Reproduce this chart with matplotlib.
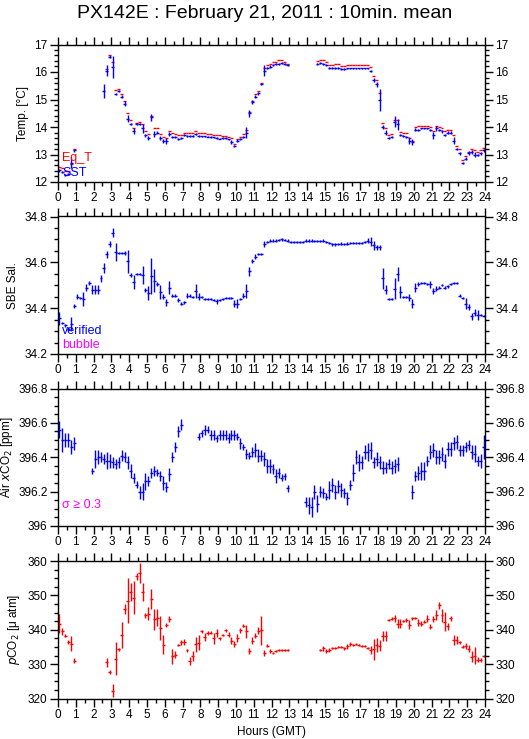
import numpy as np
import matplotlib
matplotlib.use("Agg")
import matplotlib.pyplot as plt
from matplotlib.ticker import MultipleLocator, FormatStrFormatter

plt.rcParams['font.family'] = ['Liberation Sans', 'DejaVu Sans']
nan = np.nan

title = "PX142E : February 21, 2011 : 10min. mean"
hours = (np.arange(144) + 0.5) / 6.0
half = 1.0 / 12.0

# ---- Panel 1: temperatures ----
sst = [12.42, 12.35, 12.25, 12.3, 12.7, 13.15,
       nan, nan, nan, nan, nan, nan, nan, nan, nan,
       15.3, 16.05, 16.55, 16.2, 15.2, 15.3, 15.1, 14.85, 14.3,
       14.1, 13.85, 14.1, 14.1, 13.95, 13.7,
       13.6, 14.35, 13.75, 13.8, 13.6, 13.5,
       13.5, 13.75, 13.65, 13.65, 13.55, 13.6,
       13.7, 13.68, 13.68, 13.68, 13.75, 13.68,
       13.66, 13.66, 13.65, 13.64, 13.62, 13.6,
       13.58, 13.6, 13.6, 13.55, 13.45, 13.3,
       13.5, 13.55, 13.65, 13.8, 14.5, 14.9,
       15.1, 15.22, 15.55, 16.05, 16.15, 16.2,
       16.25, 16.28, 16.3, 16.32, 16.28, 16.25,
       nan, nan, nan, nan, nan, nan, nan, nan, nan,
       16.3, 16.32, 16.3, 16.25, 16.15, 16.15,
       16.15, 16.15, 16.12, 16.12, 16.13, 16.13,
       16.13, 16.13, 16.13, 16.13, 16.13, 16.13,
       16.05, 15.7, 15.55, 15.0, 14.0, 13.8,
       13.6, 13.65, 14.2, 14.1, 13.7, 13.68,
       13.65, 13.5, 13.45, 13.9, 13.9, 13.95,
       13.95, 13.95, 13.9, 13.7, 13.95, 13.88,
       13.85, 13.72, 13.8, 13.8, 13.5, 13.2,
       13.05, 12.7, 12.85, 13.05, 13.1, 13.0,
       12.98, 13.05, 13.15]
sst_err = [0.04, 0.04, 0.04, 0.04, 0.2, 0.05,
           0, 0, 0, 0, 0, 0, 0, 0, 0,
           0.25, 0.2, 0.05, 0.4, 0.05, 0.04, 0.05, 0.08, 0.12,
           0.04, 0.1, 0.04, 0.04, 0.15, 0.05,
           0.06, 0.12, 0.1, 0.06, 0.08, 0.08,
           0.1, 0.08, 0.04, 0.04, 0.04, 0.04,
           0.03, 0.03, 0.03, 0.03, 0.05, 0.03,
           0.03, 0.03, 0.03, 0.03, 0.03, 0.03,
           0.03, 0.03, 0.03, 0.03, 0.06, 0.04,
           0.06, 0.04, 0.04, 0.2, 0.12, 0.08,
           0.05, 0.04, 0.04, 0.2, 0.04, 0.04,
           0.03, 0.03, 0.03, 0.03, 0.03, 0.03,
           0, 0, 0, 0, 0, 0, 0, 0, 0,
           0.03, 0.03, 0.03, 0.03, 0.03, 0.03,
           0.03, 0.03, 0.03, 0.03, 0.03, 0.03,
           0.03, 0.03, 0.03, 0.03, 0.03, 0.03,
           0.04, 0.08, 0.08, 0.4, 0.08, 0.08,
           0.04, 0.04, 0.2, 0.2, 0.04, 0.04,
           0.04, 0.12, 0.1, 0.05, 0.04, 0.03,
           0.03, 0.03, 0.03, 0.12, 0.08, 0.03,
           0.05, 0.04, 0.04, 0.04, 0.12, 0.05,
           0.05, 0.04, 0.06, 0.08, 0.08, 0.08,
           0.05, 0.05, 0.05]
eq_t = [12.55, 12.5, 12.4, 12.4, 12.65, 13.2,
        nan, nan, nan, nan, nan, nan, nan, nan, nan,
        nan, 16.1, 16.6, 16.35, 15.35, 15.4, 15.2, 14.95, 14.5,
        14.25, 13.95, 14.15, 14.2, 14.1, 13.85,
        13.75, 14.4, 13.95, 13.95, 13.75, 13.62,
        13.6, 13.85, 13.8, 13.75, 13.7, 13.7,
        13.8, 13.8, 13.8, 13.78, 13.85, 13.8,
        13.78, 13.78, 13.76, 13.75, 13.72, 13.7,
        13.7, 13.68, 13.66, 13.65, 13.6, 13.4,
        13.55, 13.65, 13.75, 13.9, 14.55, 14.95,
        15.2, 15.3, 15.6, 16.15, 16.25, 16.3,
        16.35, 16.38, 16.42, 16.42, 16.35, 16.3,
        nan, nan, nan, nan, nan, nan, nan, nan, nan,
        16.4, 16.42, 16.42, 16.35, 16.25, 16.25,
        16.28, 16.28, 16.22, 16.22, 16.25, 16.25,
        16.25, 16.25, 16.25, 16.25, 16.25, 16.25,
        16.18, 15.85, 15.7, 15.25, 14.15, 13.95,
        13.7, 13.75, 14.25, 14.25, 13.82, 13.8,
        13.78, 13.6, 13.5, 14.0, 14.02, 14.05,
        14.05, 14.05, 14.0, 13.85, 14.05, 14.0,
        13.95, 13.85, 13.9, 13.9, 13.7, 13.3,
        13.2, 12.8, 12.95, 13.1, 13.2, 13.15,
        13.1, 13.15, 13.22]

# ---- Panel 2: salinity ----
sal = [34.355, 34.335, 34.325, 34.31, 34.33, 34.41,
       34.45, 34.445, 34.44, 34.49, 34.51, 34.48,
       34.48, 34.48, 34.53, 34.575, 34.635, 34.68,
       34.73, 34.645, 34.64, 34.64, 34.64, 34.605,
       34.545, 34.515, 34.55, 34.55, 34.545, 34.48,
       34.465, 34.54, 34.52, 34.505, 34.47, 34.45,
       34.425, 34.49, 34.455, 34.455, 34.435, 34.42,
       34.425, 34.455, 34.455, 34.45, 34.475, 34.45,
       34.45, 34.44, 34.44, 34.44, 34.435, 34.43,
       34.435, 34.44, 34.445, 34.445, 34.445, 34.42,
       34.42, 34.44, 34.455, 34.475, 34.56, 34.605,
       34.625, 34.635, 34.635, 34.68, 34.69, 34.695,
       34.695, 34.695, 34.698, 34.7, 34.698, 34.695,
       34.69, 34.688, 34.688, 34.688, 34.69, 34.695,
       34.695, 34.695, 34.693, 34.693, 34.693, 34.695,
       34.69, 34.685, 34.678, 34.678, 34.68, 34.682,
       34.68, 34.682, 34.685, 34.685, 34.683, 34.683,
       34.685, 34.69, 34.695, 34.69, 34.675, 34.665,
       34.665, 34.53, 34.48, 34.44, 34.44, 34.485,
       34.55, 34.47, 34.45, 34.45, 34.445, 34.42,
       34.49, 34.505, 34.51, 34.51, 34.505, 34.505,
       34.475, 34.485, 34.49, 34.5, 34.49, 34.495,
       34.505, 34.51, 34.51, 34.455, 34.445, 34.42,
       34.405, 34.365, 34.38, 34.37, 34.37, 34.365]
sal_err = [0.03, 0.005, 0.005, 0.01, 0.03, 0.01,
           0.01, 0.005, 0.03, 0.015, 0.01, 0.02,
           0.02, 0.02, 0.015, 0.02, 0.015, 0.015,
           0.02, 0.04, 0.005, 0.005, 0.01, 0.05,
           0.01, 0.03, 0.005, 0.005, 0.04, 0.01,
           0.03, 0.08, 0.05, 0.01, 0.03, 0.01,
           0.015, 0.03, 0.005, 0.005, 0.01, 0.005,
           0.005, 0.01, 0.005, 0.005, 0.03, 0.015,
           0.005, 0.005, 0.005, 0.005, 0.005, 0.01,
           0.005, 0.005, 0.005, 0.005, 0.005, 0.015,
           0.02, 0.005, 0.01, 0.03, 0.02, 0.01,
           0.01, 0.005, 0.005, 0.015, 0.005, 0.005,
           0.005, 0.005, 0.005, 0.005, 0.005, 0.005,
           0.005, 0.005, 0.005, 0.005, 0.005, 0.005,
           0.005, 0.005, 0.005, 0.005, 0.005, 0.005,
           0.005, 0.005, 0.005, 0.005, 0.005, 0.005,
           0.005, 0.005, 0.005, 0.005, 0.005, 0.005,
           0.005, 0.005, 0.01, 0.02, 0.02, 0.01,
           0.01, 0.045, 0.02, 0.005, 0.005, 0.045,
           0.03, 0.025, 0.005, 0.005, 0.015, 0.02,
           0.02, 0.01, 0.005, 0.005, 0.005, 0.015,
           0.015, 0.01, 0.005, 0.005, 0.005, 0.005,
           0.005, 0.005, 0.005, 0.005, 0.005, 0.025,
           0.015, 0.015, 0.015, 0.02, 0.005, 0.005]

# ---- Panel 3: air xCO2 ----
xco2 = [396.56, 396.5, 396.5, 396.5, 396.46, 396.48,
        nan, nan, nan, nan, nan, 396.32,
        396.39, 396.4, 396.4, 396.39, 396.38, 396.38,
        396.37, 396.36, 396.37, 396.41, 396.4, 396.37,
        396.32, 396.28, 396.24, 396.195, 396.2, 396.26,
        396.26, 396.31, 396.32, 396.31, 396.29, 396.25,
        396.225, 396.3, 396.4, 396.46, 396.55, 396.59,
        nan, nan, nan, nan, nan, 396.52,
        396.54, 396.56, 396.56, 396.53, 396.53, 396.51,
        396.53, 396.53, 396.53, 396.51, 396.53, 396.53,
        396.52, 396.48, 396.46, 396.42, 396.41, 396.43,
        396.44, 396.41, 396.41, 396.39, 396.35, 396.35,
        396.33, 396.29, 396.31, 396.28, 396.29, 396.22,
        nan, nan, nan, nan, nan, 396.14,
        396.12, 396.11, 396.2, 396.13, 396.2, 396.19,
        396.17, 396.21, 396.24, 396.2, 396.23, 396.21,
        396.19, 396.16, 396.24, 396.31, 396.4, 396.37,
        396.37, 396.43, 396.43, 396.44, 396.37, 396.39,
        396.37, 396.34, 396.34, 396.36, 396.34, 396.35,
        396.36, nan, nan, nan, nan, 396.2,
        396.29, 396.31, 396.32, 396.32, 396.38, 396.43,
        396.44, 396.4, 396.4, 396.42, 396.38, 396.45,
        396.45, 396.48, 396.49, 396.44, 396.44, 396.46,
        396.47, 396.43, 396.42, 396.38, 396.38, 396.46]
xco2_err = [0.05, 0.07, 0.04, 0.04, 0.04, 0.04,
            0, 0, 0, 0, 0, 0.02,
            0.05, 0.04, 0.03, 0.03, 0.05, 0.04,
            0.03, 0.03, 0.03, 0.03, 0.03, 0.04,
            0.04, 0.03, 0.02, 0.04, 0.05, 0.05,
            0.03, 0.03, 0.03, 0.02, 0.03, 0.04,
            0.03, 0.04, 0.03, 0.03, 0.03, 0.03,
            0, 0, 0, 0, 0, 0.02,
            0.02, 0.03, 0.02, 0.03, 0.03, 0.02,
            0.03, 0.03, 0.03, 0.03, 0.03, 0.03,
            0.02, 0.03, 0.02, 0.03, 0.02, 0.03,
            0.04, 0.04, 0.03, 0.04, 0.04, 0.04,
            0.03, 0.04, 0.03, 0.02, 0.02, 0.02,
            0, 0, 0, 0, 0, 0.03,
            0.05, 0.06, 0.04, 0.05, 0.03, 0.03,
            0.02, 0.05, 0.04, 0.04, 0.04, 0.04,
            0.03, 0.04, 0.03, 0.05, 0.04, 0.05,
            0.04, 0.04, 0.05, 0.05, 0.03, 0.04,
            0.04, 0.04, 0.03, 0.03, 0.04, 0.04,
            0.04, 0, 0, 0, 0, 0.04,
            0.03, 0.04, 0.05, 0.05, 0.03, 0.04,
            0.04, 0.04, 0.04, 0.04, 0.04, 0.04,
            0.04, 0.04, 0.04, 0.03, 0.03, 0.03,
            0.03, 0.04, 0.05, 0.03, 0.04, 0.07]

# ---- Panel 4: pCO2 ----
pco2 = [341.8, 339.5, 338.3, 336.4, 336.0, 331.0,
        nan, nan, nan, nan, nan, nan,
        nan, nan, nan, nan, 330.5, 327.7,
        322.3, 331.5, 334.3, 338.5, 346.0, 348.5,
        351.0, 349.3, 355.5, 356.5, 351.0, 344.2,
        344.7, 349.0, 343.0, 343.5, 340.5, 335.7,
        341.4, 343.2, 332.3, 332.8, 335.5, 336.3,
        336.4, 334.0, 331.0, 332.3, 335.8, 336.2,
        339.5, 338.0, 339.0, 339.2, 337.5, 339.1,
        337.5, 338.6, 339.8, 338.6, 336.8, 335.8,
        337.7, 339.8, 341.2, 339.5, 333.8, 336.8,
        338.3, 339.7, 339.8, 333.3, 335.4, 333.7,
        333.2, 333.8, 334.1, 334.1, 334.0, 334.0,
        nan, nan, nan, nan, nan, nan,
        nan, nan, nan, nan, 334.1, 334.6,
        333.8, 334.2, 334.6, 334.8, 335.1, 335.1,
        334.6, 335.2, 335.8, 335.6, 335.9, 335.6,
        335.4, 335.3, 334.8, 334.1, 334.3, 335.6,
        335.4, 338.2, 338.2, 342.8, 343.2, 343.3,
        341.8, 341.8, 342.6, 342.8, 341.5, 343.3,
        343.3, 342.1, 341.8, 342.4, 343.2, 340.9,
        343.2, 344.3, 347.1, 344.2, 342.3, 341.0,
        343.3, 337.0, 337.0, 336.3, 335.1, 335.3,
        334.5, 332.2, 332.4, 331.3, 331.2, 332.3]
pco2_err = [2.8, 1.0, 0.5, 0.5, 2.2, 0.7,
            0, 0, 0, 0, 0, 0,
            0, 0, 0, 0, 1.2, 0.5,
            1.8, 4.8, 0.5, 3.8, 1.5, 6.5,
            2.5, 4.8, 1.0, 3.0, 2.5, 0.7,
            1.8, 3.0, 3.0, 2.5, 3.5, 2.8,
            0.5, 0.8, 2.2, 1.0, 0.3, 0.8,
            0.8, 0.5, 1.2, 1.5, 2.2, 2.2,
            0.3, 1.2, 0.5, 0.3, 1.5, 1.2,
            0.5, 0.3, 0.5, 0.8, 1.0, 0.8,
            1.2, 0.8, 0.5, 1.8, 0.8, 1.0,
            0.8, 1.0, 4.2, 0.8, 0.5, 0.6,
            0.3, 0.3, 0.3, 0.3, 0.3, 0.3,
            0, 0, 0, 0, 0, 0,
            0, 0, 0, 0, 0.3, 0.7,
            0.6, 0.6, 0.3, 0.3, 0.3, 0.3,
            0.5, 0.8, 0.5, 0.3, 0.3, 0.3,
            0.3, 0.3, 0.3, 1.2, 3.0, 2.0,
            1.5, 1.5, 1.5, 0.3, 0.5, 1.0,
            1.2, 1.2, 0.3, 0.5, 1.2, 0.5,
            0.3, 1.0, 0.8, 0.5, 1.0, 0.8,
            0.8, 1.5, 1.0, 1.8, 2.8, 1.0,
            0.8, 1.5, 1.2, 0.5, 0.5, 0.8,
            1.0, 1.5, 2.5, 0.8, 0.5, 0.3]

W, H = 529, 739
fig = plt.figure(figsize=(W / 100, H / 100), dpi=100)

left = 58 / W
width = (485 - 58) / W
tops = [44.5, 216.5, 388.5, 561.0]
ph = 137.5
lw = 1.0
fs = 8.5

def make_ax(top, ylim, major, minor):
    ax = fig.add_axes([left, 1 - (top + ph) / H, width, ph / H])
    ax.set_xlim(0, 24)
    ax.set_ylim(*ylim)
    ax.xaxis.set_major_locator(MultipleLocator(1))
    ax.xaxis.set_minor_locator(MultipleLocator(0.5))
    ax.yaxis.set_major_locator(MultipleLocator(major))
    ax.yaxis.set_minor_locator(MultipleLocator(minor))
    ax.yaxis.set_major_formatter(FormatStrFormatter('%g'))
    ax.tick_params(which='both', direction='out', top=True, right=True,
                   labelright=True, labelsize=fs, width=1, colors='black', pad=2)
    ax.tick_params(which='major', length=5.5)
    ax.tick_params(which='minor', length=3)
    for s in ax.spines.values():
        s.set_linewidth(1)
    return ax

# Panel 1
ax1 = make_ax(tops[0], (12, 17), 1, 0.2)
ax1.errorbar(hours, eq_t, xerr=half, fmt='none', ecolor='red', elinewidth=lw, capsize=0)
ax1.errorbar(hours, sst, xerr=half, yerr=sst_err, fmt='none', ecolor='blue', elinewidth=lw, capsize=0)
ax1.set_ylabel('Temp. [°C]', fontsize=fs)
ax1.text(0.01, 0.155, 'Eq_T', color='red', fontsize=fs + 0.5, transform=ax1.transAxes)
ax1.text(0.01, 0.045, 'SST', color='blue', fontsize=fs + 0.5, transform=ax1.transAxes)

# Panel 2
ax2 = make_ax(tops[1], (34.2, 34.8), 0.2, 0.05)
ax2.errorbar(hours, sal, xerr=half, yerr=sal_err, fmt='none', ecolor='blue', elinewidth=lw, capsize=0)
ax2.set_ylabel('SBE Sal.', fontsize=fs)
ax2.text(0.01, 0.145, 'verified', color='blue', fontsize=fs + 0.5, transform=ax2.transAxes)
ax2.text(0.01, 0.045, 'bubble', color='magenta', fontsize=fs + 0.5, transform=ax2.transAxes)

# Panel 3
ax3 = make_ax(tops[2], (396.0, 396.8), 0.2, 0.05)
ax3.errorbar(hours, xco2, xerr=half, yerr=xco2_err, fmt='none', ecolor='blue', elinewidth=lw, capsize=0)
ax3.set_ylabel('Air $x$CO$_2$ [ppm]', fontsize=fs)
ax3.yaxis.set_label_coords(-0.1, 0.5)
ax3.text(0.01, 0.13, 'σ ≥ 0.3', color='magenta', fontsize=fs + 0.5, transform=ax3.transAxes)

# Panel 4
ax4 = make_ax(tops[3], (320, 360), 10, 2.5)
ax4.errorbar(hours, pco2, xerr=half, yerr=pco2_err, fmt='none', ecolor='red', elinewidth=lw, capsize=0)
ax4.set_ylabel('$p$CO$_2$ [μ atm]', fontsize=fs)
ax4.set_xlabel('Hours (GMT)', fontsize=fs)

fig.text(0.5, 1 - 14 / H, title, ha='center', va='center', fontsize=14)

fig.savefig('out.png', dpi=100)
